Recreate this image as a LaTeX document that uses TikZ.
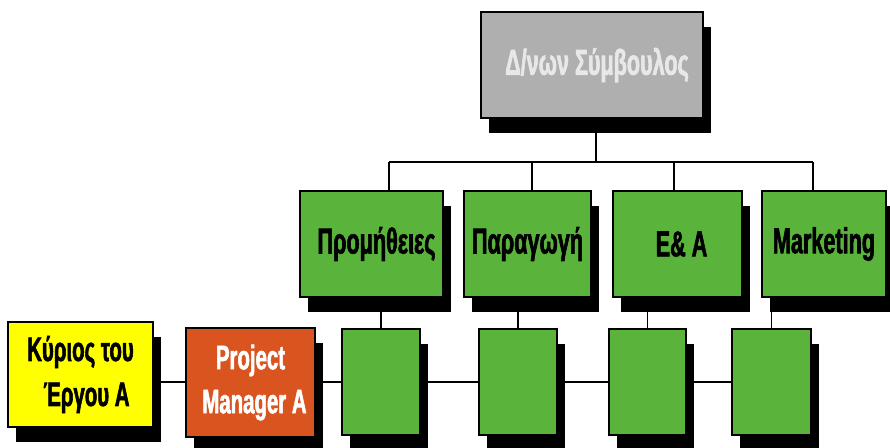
\documentclass[tikz,border=0pt]{standalone}
\usepackage{fontspec}
\newfontfamily\cond[FakeStretch=0.6, BoldFeatures={FakeBold=1.6}]{Liberation Sans}
\usetikzlibrary{shadows}
\pgfdeclarelayer{bg}
\pgfsetlayers{bg,main}
\definecolor{boxgreen}{HTML}{5AB43C}
\definecolor{boxgray}{HTML}{AFAFAF}
\definecolor{boxyellow}{HTML}{FFFF00}
\definecolor{boxorange}{HTML}{D9541E}
\definecolor{txtlight}{HTML}{E8E8E8}
\pgfdeclareradialshading{bgshade}{\pgfpoint{0bp}{0bp}}{color(0bp)=(white); color(15bp)=(white); color(25bp)=(black!12); color(50bp)=(black!12)}
\tikzset{
  orgbox/.style={draw=black, line width=1.4pt, inner sep=0pt, align=center,
    font=\cond\bfseries\fontsize{36}{44}\selectfont,
    drop shadow={shadow xshift=8pt, shadow yshift=-15pt, opacity=1, fill=black}},
  greenbox/.style={orgbox, fill=boxgreen, minimum height=106pt},
  conn/.style={draw=black, line width=1.6pt}
}
\begin{document}
\begin{tikzpicture}[x=1pt,y=-1pt]
\useasboundingbox (0,0) rectangle (890,447);
\begin{pgfonlayer}{bg}
  \begin{scope}
    \clip (0,0) rectangle (890,447);
    \shade[shading=bgshade] (445,223) circle (1040pt);
  \end{scope}
\end{pgfonlayer}

% top box
\node[orgbox, fill=boxgray, text=txtlight, minimum width=222pt, minimum height=106pt,
      font=\cond\bfseries\fontsize{36}{44}\selectfont] (boss) at (592,65)
      {\hspace*{10pt}Δ/νων Σύμβουλος};

% departments
\node[greenbox, minimum width=143pt] (p1) at (371.5,244) {\hspace*{10pt}Προμήθειες};
\node[greenbox, minimum width=127pt] (p2) at (527.5,244) {Παραγωγή};
\node[greenbox, minimum width=129pt] (p3) at (677.5,244) {\hspace*{8pt}E\& A};
\node[greenbox, minimum width=124pt] (p4) at (824,244) {Marketing};

% project row
\node[orgbox, fill=boxyellow, minimum width=145pt, minimum height=105pt,
      font=\cond\bfseries\fontsize{34}{45}\selectfont] (k) at (80.5,374.5)
      {Κύριος του\\ \hspace*{12pt}Έργου Α};
\node[orgbox, fill=boxorange, text=white, minimum width=129pt, minimum height=109pt,
      font=\cond\bfseries\fontsize{34}{44}\selectfont] (pm) at (250.5,382.5)
      {Project\\ \hspace*{8pt}Manager A};
\node[greenbox, minimum width=78pt] (e1) at (381,382) {};
\node[greenbox, minimum width=78pt] (e2) at (518,382) {};
\node[greenbox, minimum width=77pt] (e3) at (647.5,382) {};
\node[greenbox, minimum width=79pt] (e4) at (771.5,382) {};

\coordinate (top) at (596,162);
\coordinate (d1) at (389,162);
\coordinate (d2) at (532,162);
\coordinate (d3) at (674,162);
\coordinate (d4) at (813,162);

\begin{pgfonlayer}{bg}
  \draw[conn] (boss.south -| top) -- (top);
  \draw[conn] (d1) -- (d4);
  \draw[conn] (d1) -- (d1 |- p1.north);
  \draw[conn] (d2) -- (d2 |- p2.north);
  \draw[conn] (d3) -- (d3 |- p3.north);
  \draw[conn] (d4) -- (d4 |- p4.north);
  \draw[conn] (e1 |- p1.south) -- (e1.north);
  \draw[conn] (e2 |- p2.south) -- (e2.north);
  \draw[conn] (e3 |- p3.south) -- (e3.north);
  \draw[conn] (e4 |- p4.south) -- (e4.north);
  \draw[conn] (k.east |- e1) -- (e4);
\end{pgfonlayer}
\end{tikzpicture}
\end{document}
